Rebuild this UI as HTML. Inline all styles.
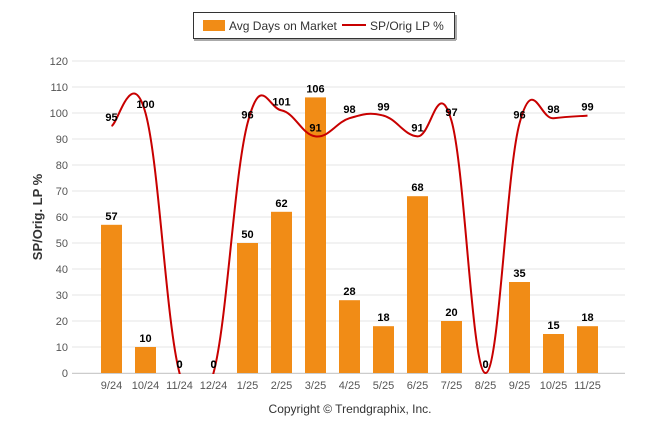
<!DOCTYPE html>
<html><head><meta charset="utf-8"><style>
body{margin:0;background:#fff;font-family:"Liberation Sans",sans-serif}
</style></head><body>
<svg id="c" width="646" height="434" xmlns="http://www.w3.org/2000/svg" font-family="Liberation Sans, sans-serif">
<defs><clipPath id="plotclip"><rect x="72" y="40" width="560" height="334"/></clipPath></defs>
<g>
<rect x="193.5" y="12.5" width="261" height="26" fill="#fff" stroke="#333" stroke-width="1"/>
<rect x="455" y="15" width="2" height="25" fill="#aaa"/>
<rect x="194" y="39" width="262" height="2" fill="#aaa"/>
<rect x="203" y="20" width="22" height="11" fill="#f18c16"/>
<text x="229" y="30" font-size="12" fill="#333">Avg Days on Market</text>
<line x1="342" y1="25" x2="366" y2="25" stroke="#c80000" stroke-width="2"/>
<text x="370" y="30" font-size="12" fill="#333">SP/Orig LP %</text>
</g>
<text transform="translate(42,217) rotate(-90)" text-anchor="middle" font-size="13" font-weight="bold" fill="#333">SP/Orig. LP %</text>
<text x="350" y="413" text-anchor="middle" font-size="12" fill="#333">Copyright © Trendgraphix, Inc.</text>
<g id="grid"></g><g id="bars"></g><g id="line" clip-path="url(#plotclip)"></g><g id="labels"></g>
</svg>
<script>
const categories=["9/24","10/24","11/24","12/24","1/25","2/25","3/25","4/25","5/25","6/25","7/25","8/25","9/25","10/25","11/25"];
const daysValues=[57,10,0,0,50,62,106,28,18,68,20,0,35,15,18];
const splpValues=[95,100,0,0,96,101,91,98,99,91,97,0,96,98,99];
const yTicks=[0,10,20,30,40,50,60,70,80,90,100,110,120];
const NS="http://www.w3.org/2000/svg";
const y=v=>373-v*(312/120);
const x=i=>111.5+i*34;
function mk(tag,at,parent){const e=document.createElementNS(NS,tag);for(const k in at)e.setAttribute(k,at[k]);document.getElementById(parent).appendChild(e);return e;}
yTicks.forEach(t=>{
 const l=mk('line',{x1:72,x2:625,y1:y(t),y2:y(t),stroke:'#e6e6e6','stroke-width':1},'grid');
 
 
 const tx=mk('text',{x:68,y:y(t)+4,'text-anchor':'end','font-size':11,fill:'#555'},'grid');tx.textContent=t;
 
 
});
mk('line',{x1:72,x2:625,y1:373.5,y2:373.5,stroke:'#ccc'},'grid');
categories.forEach((c,i)=>{
 const tx=mk('text',{x:x(i),y:389,'text-anchor':'middle','font-size':11,fill:'#555'},'grid');tx.textContent=c;
 
 
 const b=mk('rect',{x:x(i)-10.5,y:y(daysValues[i]),width:21,height:373-y(daysValues[i]),fill:'#f18c16'},'bars');
 
 
 const bl=mk('text',{x:x(i),y:y(daysValues[i])-5,'text-anchor':'middle','font-size':11,'font-weight':'bold',fill:'#000'},'labels');bl.textContent=daysValues[i];
 
 
 const ll=mk('text',{x:x(i),y:y(splpValues[i])-5,'text-anchor':'middle','font-size':11,'font-weight':'bold',fill:'#000'},'labels');ll.textContent=splpValues[i];
 
 
});
const P=splpValues.map((v,i)=>[x(i),y(v)]);
let d='M'+P[0][0]+','+P[0][1];
for(let i=0;i<P.length-1;i++){
 const p0=P[Math.max(i-1,0)],p1=P[i],p2=P[i+1],p3=P[Math.min(i+2,P.length-1)];
 const k=1/5;
 d+=` C${p1[0]+(p2[0]-p0[0])*k},${p1[1]+(p2[1]-p0[1])*k} ${p2[0]-(p3[0]-p1[0])*k},${p2[1]-(p3[1]-p1[1])*k} ${p2[0]},${p2[1]}`;
}
const path=mk('path',{d:d,fill:'none',stroke:'#c80000','stroke-width':2},'line');


</script>
</body></html>
